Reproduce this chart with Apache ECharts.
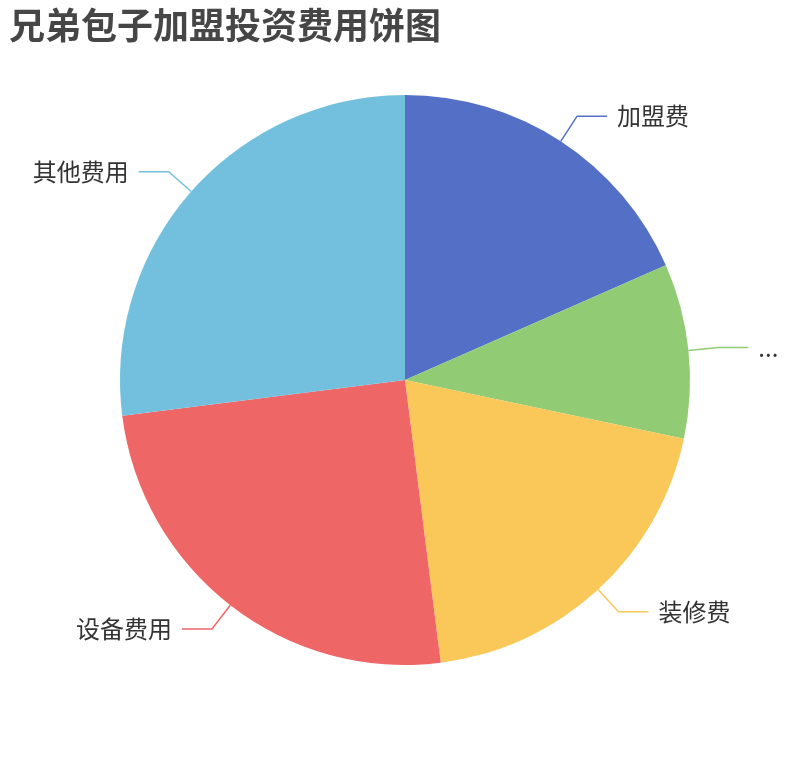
<!DOCTYPE html>
<html><head><meta charset="utf-8">
<script src="https://cdn.jsdelivr.net/npm/echarts@6/dist/echarts.min.js"></script>
<style>html,body{margin:0;padding:0;background:#fff}#c{width:810px;height:760px}</style>
</head><body><div id="c"></div>
<script>
var titleText = '兄弟包子加盟投资费用饼图';
var categories = ['加盟费', '首批原料及物料费用', '装修费', '设备费用', '其他费用'];
var values = [18.4, 9.9, 19.7, 25.0, 27.0];
var palette = ['#5470c6', '#91cc75', '#fac858', '#ee6666', '#73c0de'];
var chart = echarts.init(document.getElementById('c'));
chart.setOption({
  animation: false,
  color: palette,
  title: { text: titleText, left: 4, top: 2, textStyle: { fontSize: 36, fontWeight: 'bold', color: '#464646', fontFamily: 'Noto Sans CJK SC' } },
  series: [{
    type: 'pie',
    center: [405, 380],
    radius: 285,
    startAngle: 90,
    label: { fontSize: 24, color: '#333', fontFamily: 'Noto Sans CJK SC', distanceToLabelLine: 10 },
    labelLine: { length: 30, length2: 30, lineStyle: { width: 1.5 } },
    data: categories.map(function (n, i) { return { name: n, value: values[i] }; })
  }]
});
</script></body></html>
